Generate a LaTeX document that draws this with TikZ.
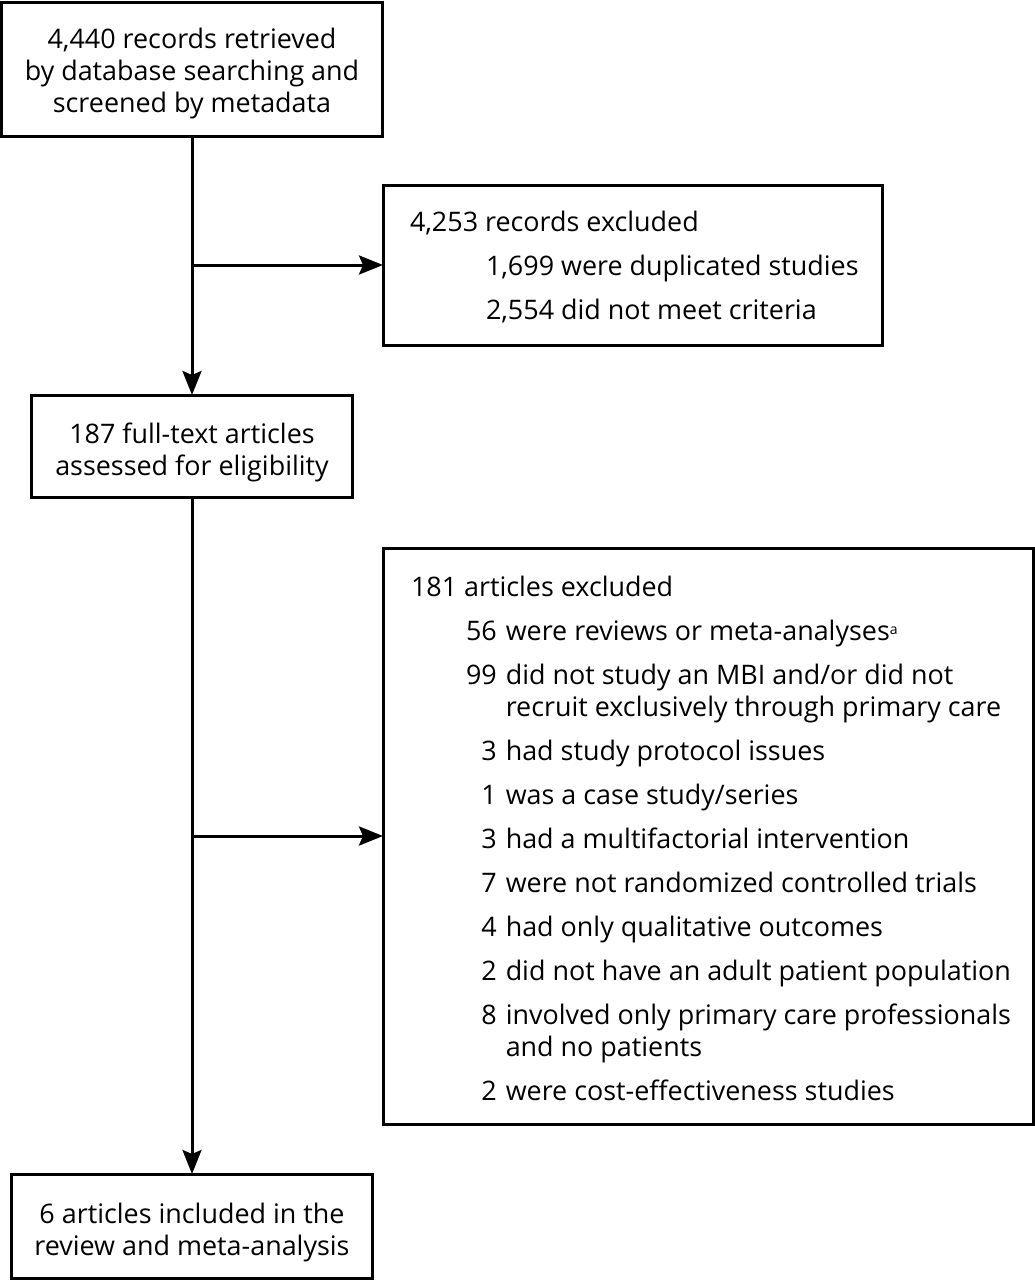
\documentclass[tikz,border=0pt]{standalone}
\usepackage{fontspec}
\setmainfont{Open Sans}
\usetikzlibrary{arrows.meta}
\newcommand{\fsz}{\fontsize{26.9}{32}\selectfont}
\begin{document}
\begin{tikzpicture}[x=1pt,y=-1pt,
  box/.style={draw, line width=3pt, inner sep=0pt, outer sep=0pt},
  ctxt/.style={inner sep=0pt, outer sep=0pt, font=\fsz, align=center},
  txt/.style={inner sep=0pt, outer sep=0pt, font=\fsz, anchor=base west},
  arr/.style={line width=3pt, -{Stealth[length=24pt,width=19pt,inset=4pt]}}]
\useasboundingbox (0,0) rectangle (1035,1280);
\node[box, minimum width=381pt, minimum height=134pt] (b1) at (192,69) {};
\node[ctxt] (t1) at ([yshift=-5pt]b1.center)
  {4,440 records retrieved\\by database searching and\\screened by metadata};
\node[box, minimum width=499pt, minimum height=160pt] (b2) at (632.5,265) {};
\node[txt] (t2) at (410,231) {\begin{tabular}[t]{@{}l@{}}
4,253 records excluded\\[12pt]
\hspace{76pt}1,699 were duplicated studies\\[12pt]
\hspace{76pt}2,554 did not meet criteria
\end{tabular}};
\node[box, minimum width=321pt, minimum height=102pt] (b3) at (192,446) {};
\node[ctxt] (t3) at ([yshift=-6pt]b3.center)
  {187 full-text articles\\assessed for eligibility};
\node[box, minimum width=650pt, minimum height=576pt] (b4) at (708,836) {};
\node[txt] (t4) at (411,596) {\begin{tabular}[t]{@{\hspace{55pt}}r@{\hspace{9pt}}l@{}}
\multicolumn{2}{@{}l}{181 articles excluded}\\[12pt]
56 & were reviews or meta-analyses\raisebox{6pt}{\fontsize{14}{14}\selectfont a}\\[12pt]
99 & did not study an MBI and/or did not\\
   & recruit exclusively through primary care\\[12pt]
3 & had study protocol issues\\[12pt]
1 & was a case study/series\\[12pt]
3 & had a multifactorial intervention\\[12pt]
7 & were not randomized controlled trials\\[12pt]
4 & had only qualitative outcomes\\[12pt]
2 & did not have an adult patient population\\[12pt]
8 & involved only primary care professionals\\
  & and no patients\\[12pt]
2 & were cost-effectiveness studies
\end{tabular}};
\node[box, minimum width=361pt, minimum height=104pt] (b5) at (192,1226) {};
\node[ctxt] (t5) at ([yshift=-6pt]b5.center)
  {6 articles included in the\\review and meta-analysis};
\coordinate (j1) at (192,265);
\coordinate (j2) at (192,836);
\draw[arr] (b1.south) -- (b3.north);
\draw[arr] (j1) -- (b2.west);
\draw[arr] (b3.south) -- (b5.north);
\draw[arr] (j2) -- (b4.west);
\end{tikzpicture}
\end{document}
